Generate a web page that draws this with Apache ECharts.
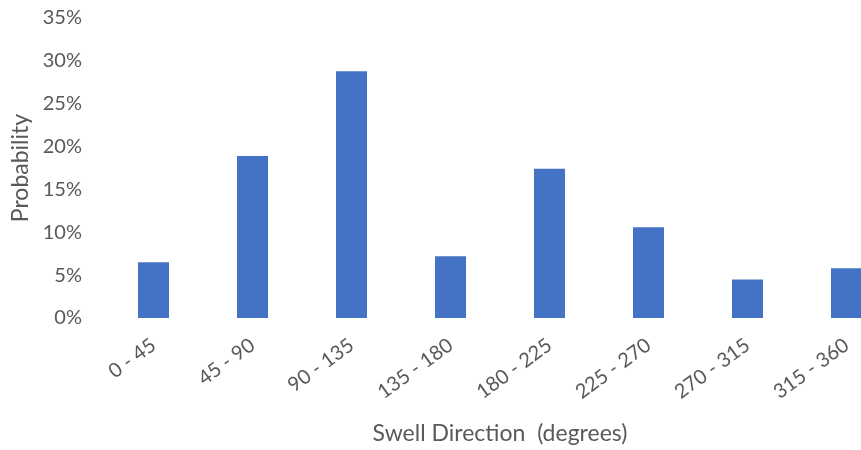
<!DOCTYPE html>
<html>
<head>
<meta charset="utf-8">
<script src="https://cdn.jsdelivr.net/npm/echarts@6/dist/echarts.min.js"></script>
<style>
  html, body { margin: 0; padding: 0; background: #fff; }
  #root { width: 861px; height: 450px; }
</style>
</head>
<body>
<div id="root"></div>
<script>
// 方向区间
var categories = ['0 - 45', '45 - 90', '90 - 135', '135 - 180', '180 - 225', '225 - 270', '270 - 315', '315 - 360'];
// 概率
var probability = [0.065, 0.189, 0.288, 0.072, 0.174, 0.106, 0.045, 0.058];
var yTicks = [0, 0.05, 0.1, 0.15, 0.2, 0.25, 0.3, 0.35];

var textColor = '#595959';
var font = 'Lato, "Open Sans", sans-serif';

var option = {
  animation: false,
  grid: {
    left: 104,
    right: -35,
    top: 18,
    bottom: 132,
    outerBoundsMode: 'none'
  },
  xAxis: {
    type: 'category',
    data: categories,
    name: 'Swell Direction  (degrees)',
    nameLocation: 'middle',
    nameGap: 104,
    nameTextStyle: { color: textColor, fontSize: 23, fontFamily: font },
    axisLine: { show: false },
    axisTick: { show: false },
    axisLabel: {
      rotate: 36,
      margin: 25,
      color: textColor,
      fontSize: 20,
      fontFamily: font
    }
  },
  yAxis: {
    type: 'value',
    min: yTicks[0],
    max: yTicks[yTicks.length - 1],
    interval: 0.05,
    name: 'Probability',
    nameLocation: 'middle',
    nameGap: 70,
    nameRotate: 90,
    nameTextStyle: { color: textColor, fontSize: 23, fontFamily: font },
    splitLine: { show: false },
    axisLine: { show: false },
    axisTick: { show: false },
    axisLabel: {
      margin: 22,
      color: textColor,
      fontSize: 20,
      fontFamily: font,
      formatter: function(value) {
        return Math.round(value * 100) + '%';
      }
    }
  },
  series: [
    {
      type: 'bar',
      barWidth: 31,
      itemStyle: { color: '#4472C4' },
      data: probability
    }
  ]
};

var myChart = echarts.init(document.getElementById('root'));
myChart.setOption(option);
</script>
</body>
</html>
